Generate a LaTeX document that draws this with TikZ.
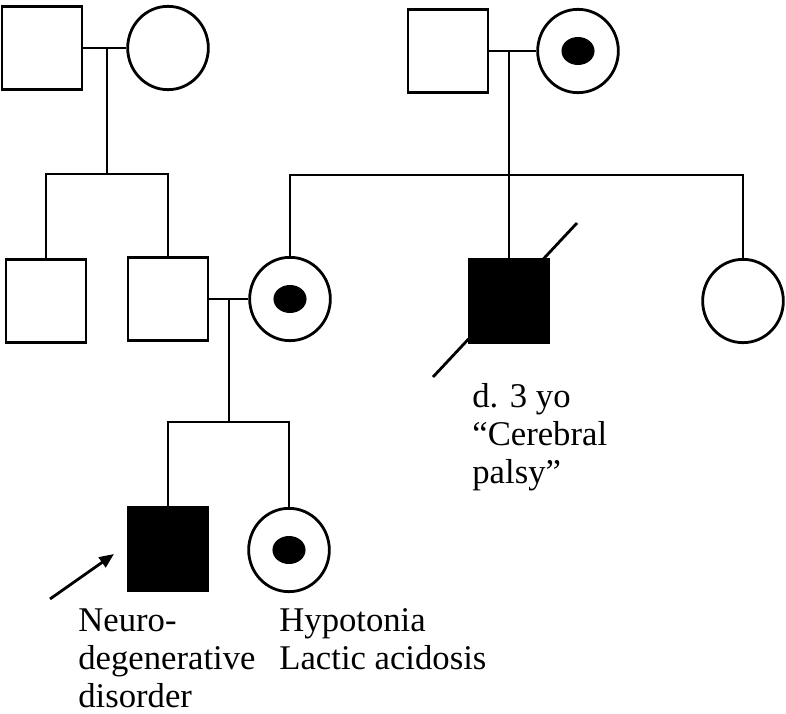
\documentclass[tikz,border=0pt]{standalone}
\usepackage{fontspec}
\setmainfont{Liberation Serif}
\usetikzlibrary{shapes.geometric, arrows.meta}

\begin{document}
\begin{tikzpicture}[x=0.75pt, y=-0.75pt, line width=2.1pt,
    male/.style={draw, rectangle, minimum width=60pt, minimum height=62pt, inner sep=0pt},
    female/.style={draw, ellipse, minimum width=60.5pt, minimum height=62.5pt, inner sep=0pt},
    carrier/.style={path picture={\fill (path picture bounding box.center)
      ellipse [x radius=12.4pt, y radius=10.5pt];}},
    affected/.style={fill=black},
    note/.style={anchor=north west, inner sep=0pt, align=left,
      font=\fontsize{26}{28.5}\selectfont}]
  \useasboundingbox (0,0) rectangle (786,714);

  % Generation I
  \node[male] (I1) at (42,48) {};
  \node[female] (I2) at (168,48) {};
  \node[male] (I3) at (448,51) {};
  \node[female, carrier] (I4) at (578,51) {};

  % Generation II
  \node[male] (II1) at (46,301) {};
  \node[male] (II2) at (168,299) {};
  \node[female, carrier] (II3) at (290,299) {};
  \node[male, affected] (II4) at (509,301) {};
  \node[female] (II5) at (743,301) {};

  % Generation III
  \node[male, affected] (III1) at (168,549) {};
  \node[female, carrier] (III2) at (289,550) {};

  % Mating and sibship points
  \coordinate (m1) at (107,48);
  \coordinate (s1) at (107,174);
  \coordinate (m2) at (509,51);
  \coordinate (s2) at (509,175);
  \coordinate (m3) at (229,299);
  \coordinate (s3) at (229,422);

  % Lines of descent
  \draw (I1) -- (I2);
  \draw (m1) -- (s1);
  \draw (II1.north) |- (s1) -| (II2.north);
  \draw (I3) -- (I4);
  \draw (m2) -- (II4.north);
  \draw (II3.north) |- (s2) -| (II5.north);
  \draw (II2) -- (II3);
  \draw (m3) -- (s3);
  \draw (III1.north) |- (s3) -| (III2.north);

  % Deceased
  \draw ([shift={(68,-78)}]II4.center) -- ([shift={(-76,76)}]II4.center);

  % Proband
  \coordinate (pa) at (50,599);
  \coordinate (pb) at (114,554);
  \draw[-{Triangle[length=11pt, width=9pt]}] (pa) -- (pb);

  % Notes
  \node[note] (n1) at (77,607) {Neuro-\\degenerative\\disorder};
  \node[note] (n2) at (278,607) {Hypotonia\\Lactic acidosis};
  \node[note] (n3) at (471,382) {d. 3 yo\\“Cerebral\\palsy”};
\end{tikzpicture}
\end{document}
